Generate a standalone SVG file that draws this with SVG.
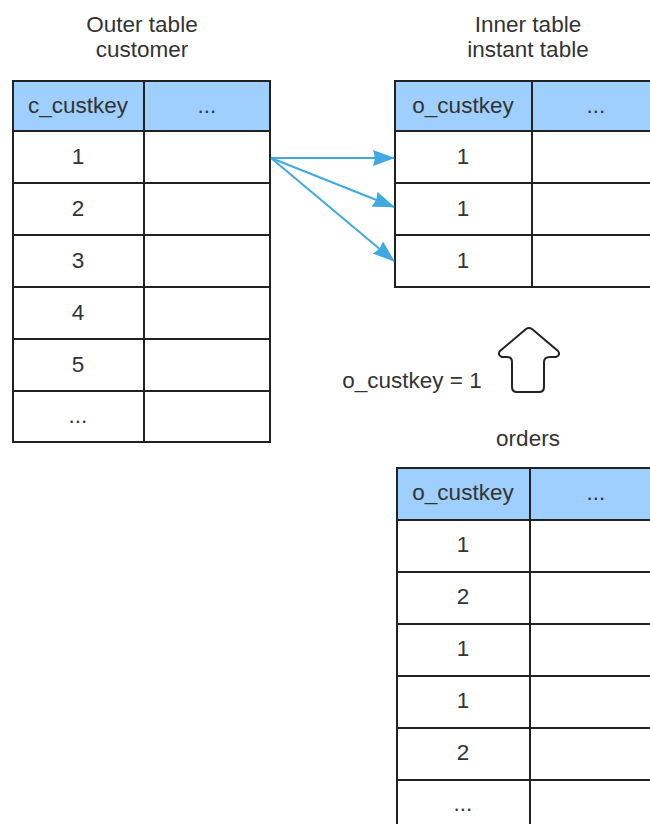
<svg xmlns="http://www.w3.org/2000/svg" width="650" height="824" viewBox="0 0 650 824">
<defs>
<style>
.t{font-family:"Liberation Sans",Arial,sans-serif;font-size:22.5px;fill:#333;text-anchor:middle}
.hd{fill:#9fcfff;stroke:none}
.g{fill:none;stroke:#222;stroke-width:2}
.c{fill:none;stroke:#41a9e1;stroke-width:2}
</style>
<marker id="ah" viewBox="0 0 22 16" refX="21" refY="8" markerWidth="22" markerHeight="16" markerUnits="userSpaceOnUse" orient="auto">
<path d="M0,0 L22,8 L0,16 L2,8 Z" fill="#41a9e1"/>
</marker>
</defs>
<rect width="650" height="824" fill="#fff"/>
<text class="t" x="142" y="32">Outer table</text>
<text class="t" x="142" y="57">customer</text>
<text class="t" x="528" y="32">Inner table</text>
<text class="t" x="528" y="57">instant table</text>

<g id="outer">
<rect class="hd" x="13" y="81" width="257" height="50"/>
<rect class="g" x="13" y="81" width="257" height="361"/>
<path class="g" d="M144,81V442M13,131H270M13,183H270M13,235H270M13,287H270M13,339H270M13,391H270"/>
<text class="t" x="78" y="113">c_custkey</text>
<text class="t" x="207" y="113">...</text>
<text class="t" x="78" y="164">1</text>
<text class="t" x="78" y="216">2</text>
<text class="t" x="78" y="268">3</text>
<text class="t" x="78" y="320">4</text>
<text class="t" x="78" y="372">5</text>
<text class="t" x="78" y="423">...</text>
</g>

<g id="inner">
<rect class="hd" x="395" y="81" width="260" height="50"/>
<path class="g" d="M660,81H395V287H660M532,81V287M395,131H660M395,183H660M395,235H660"/>
<text class="t" x="463" y="113">o_custkey</text>
<text class="t" x="596" y="113">...</text>
<text class="t" x="463" y="164">1</text>
<text class="t" x="463" y="216">1</text>
<text class="t" x="463" y="268">1</text>
</g>

<g id="connectors">
<path class="c" d="M271,158L394,158" marker-end="url(#ah)"/>
<path class="c" d="M271,158L394,207" marker-end="url(#ah)"/>
<path class="c" d="M271,158L394,261" marker-end="url(#ah)"/>
</g>

<g id="uparrow">
<path d="M517,392 Q512,392 512,387 L512,362 Q512,357 507,357 L502,357 Q497,355 500,351 L526,329 Q529,327 532,329 L558,351 Q561,355 556,357 L550,357 Q544,357 544,362 L544,387 Q544,392 539,392 Z" fill="#fff" stroke="#222" stroke-width="2" stroke-linejoin="round"/>
</g>
<text class="t" x="412" y="388">o_custkey = 1</text>
<text class="t" x="528" y="446">orders</text>

<g id="orders">
<rect class="hd" x="397" y="468" width="263" height="52"/>
<path class="g" d="M660,468H397V830M530,468V830M397,520H660M397,572H660M397,624H660M397,676H660M397,728H660M397,780H660"/>
<text class="t" x="463" y="500">o_custkey</text>
<text class="t" x="596" y="500">...</text>
<text class="t" x="463" y="552">1</text>
<text class="t" x="463" y="604">2</text>
<text class="t" x="463" y="656">1</text>
<text class="t" x="463" y="708">1</text>
<text class="t" x="463" y="760">2</text>
<text class="t" x="463" y="811">...</text>
</g>
</svg>
